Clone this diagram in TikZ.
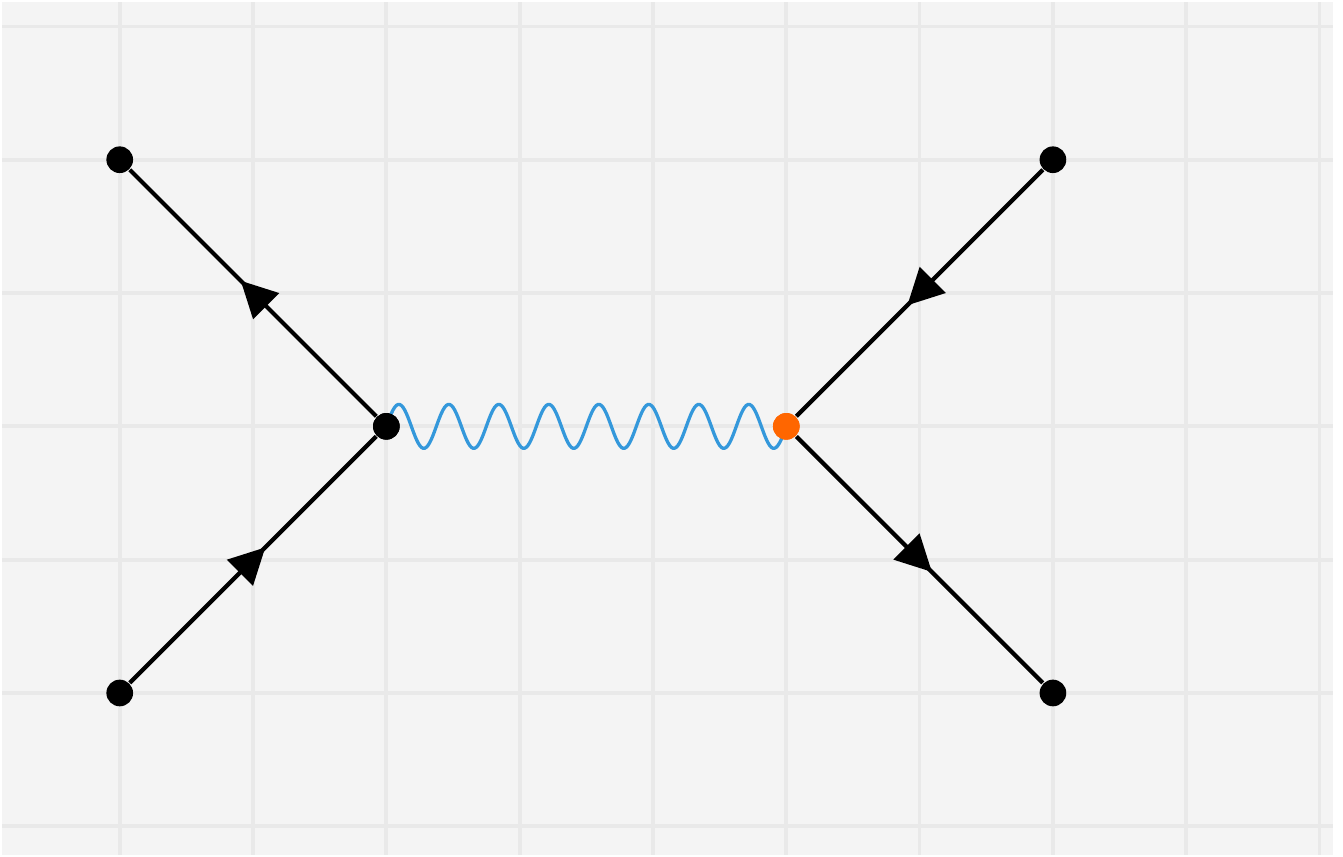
\documentclass[tikz,border=0pt]{standalone}
\usepackage{tikz}
\usetikzlibrary{arrows.meta, positioning, decorations.markings}

\definecolor{bgcol}{HTML}{F4F4F4}
\definecolor{gridcol}{HTML}{E9E9E9}
\definecolor{photoncol}{HTML}{3498DB}
\definecolor{vertexcol}{HTML}{FF6600}

\begin{document}
\begin{tikzpicture}[
        dot/.style={circle, fill=black, inner sep=0pt, minimum size=0.2cm},
        hotdot/.style={dot, fill=vertexcol},
        gridline/.style={draw=gridcol, line width=0.8pt},
        fermion/.style={line width=0.9pt, postaction={decorate},
            decoration={markings, mark=at position 0.55 with {\arrow{Triangle[length=0.27cm, width=0.27cm]}}}},
        photon/.style={draw=photoncol, line width=0.7pt}
        ]

        % background and grid
        \fill [bgcol] (-0.884,-1.213) rectangle (9.101,5.184);
        \foreach \x in {0,...,9}
            \draw [gridline] (\x,-1.213) -- (\x,5.184);
        \foreach \y in {-1,...,5}
            \draw [gridline] (-0.884,\y) -- (9.101,\y);
        \useasboundingbox (-0.884,-1.213) rectangle (9.176,5.184);

        % vertices and external legs
        \node (vl) [dot] at (2,2) {};
        \node (vr) [hotdot, right=3cm of vl.center, anchor=center] {};
        \node (inTL) [dot] at (0,4) {};
        \node (inBL) [dot] at (0,0) {};
        \node (outTR) [dot] at (7,4) {};
        \node (outBR) [dot] at (7,0) {};

        % photon: 8 periods from vl to vr
        \draw [photon, shift={(vl.center)}] plot [domain=0:3, samples=241, smooth] (\x, {0.165*sin(960*\x)});
        \node [dot] at (vl) {};
        \node [hotdot] at (vr) {};

        \draw [fermion] (vl) -- (inTL);
        \draw [fermion] (inBL) -- (vl);
        \draw [fermion] (outTR) -- (vr);
        \draw [fermion] (vr) -- (outBR);

    \end{tikzpicture}
\end{document}
